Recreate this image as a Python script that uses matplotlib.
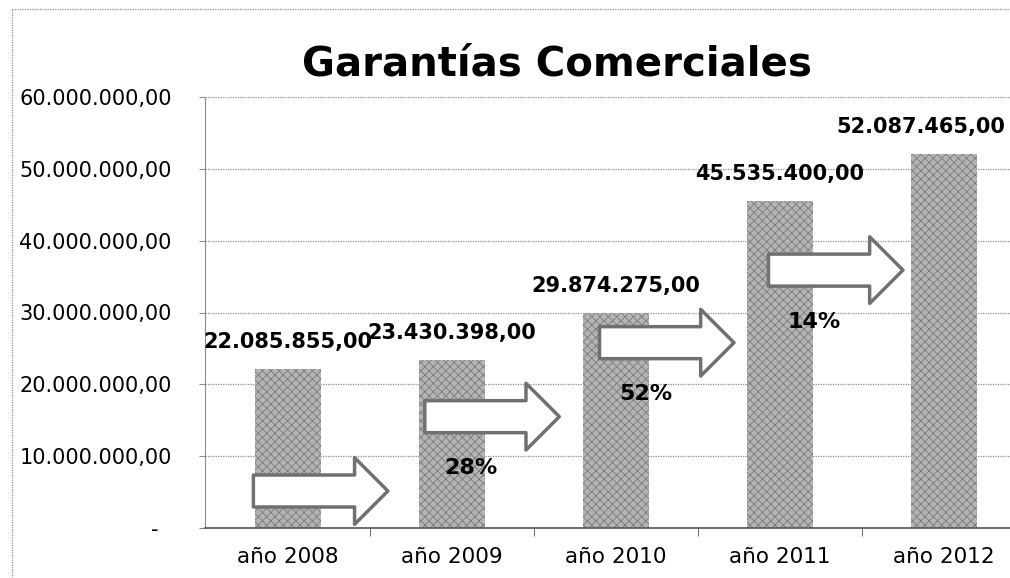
import numpy as np
import matplotlib
matplotlib.use("Agg")
import matplotlib.pyplot as plt
from matplotlib.ticker import FuncFormatter, MultipleLocator

# =========================
# DATA
# =========================
years = ["año 2008", "año 2009", "año 2010", "año 2011", "año 2012"]
values = [22085855.00, 23430398.00, 29874275.00, 45535400.00, 52087465.00]
growth_labels = ["", "28%", "52%", "14%"]

# arrow layout (start in category units, height in data units)
arrow_x0 = [-0.21, 0.835, 1.90, 2.93]
arrow_y = [5.15e6, 15.5e6, 25.8e6, 35.9e6]
ARROW_LEN = 0.82

# horizontal nudge (points) of the value labels, last one kept inside the image
label_dx = [0, 0, 0, 0, -17]


def es_fmt(v):
    s = f"{v:,.2f}"
    return s.replace(",", "X").replace(".", ",").replace("X", ".")


def ytick_fmt(v, pos):
    if v == 0:
        return "-  "
    return es_fmt(v)


# =========================
# FIGURE
# =========================
plt.rcParams["hatch.linewidth"] = 0.6
fig = plt.figure(figsize=(10.10, 5.78), dpi=100)
W, H = 1010, 578
ax = fig.add_axes([205 / W, 1 - 528 / H, (W - 205) / W, (528 - 97) / H])

x = np.arange(len(years))
ax.bar(x, values, width=0.4, color="#b4b4b4", edgecolor="#7a7a7a",
       linewidth=0, hatch="xxxx", zorder=2)

ax.set_xlim(-0.505, (W - 288) / 164)
ax.set_ylim(0, 60e6)

# grid + axes
ax.yaxis.set_major_locator(MultipleLocator(10e6))
ax.yaxis.set_major_formatter(FuncFormatter(ytick_fmt))
ax.grid(axis="y", color="#8a8a8a", linestyle=(0, (1, 1)), linewidth=0.9, zorder=0)
for s in ["top", "right"]:
    ax.spines[s].set_visible(False)
ax.spines["left"].set_color("#8a8a8a")
ax.spines["left"].set_linestyle((0, (1, 1)))
ax.spines["bottom"].set_color("#555555")
ax.spines["bottom"].set_linewidth(1.2)

ax.set_xticks(x)
ax.set_xticklabels(years)
ax.set_xticks(x[:-1] + 0.5, minor=True)
ax.tick_params(axis="x", which="major", length=0, pad=14, labelsize=15.5)
ax.tick_params(axis="x", which="minor", length=6, color="#555555")
ax.tick_params(axis="y", length=4, color="#8a8a8a", pad=20, labelsize=15)

# value labels above bars
for xi, v, dx in zip(x, values, label_dx):
    ax.annotate(es_fmt(v), (xi, v), xytext=(dx, 19.5), textcoords="offset points",
                ha="center", va="center", fontsize=15, fontweight="bold",
                zorder=5, annotation_clip=False)

# growth arrows
for x0, y0, lab in zip(arrow_x0, arrow_y, growth_labels):
    ax.annotate("", xy=(x0 + ARROW_LEN, y0), xytext=(x0, y0),
                arrowprops=dict(arrowstyle="simple,head_length=1.0,head_width=2.0,tail_width=0.96",
                                mutation_scale=24, fc="white", ec="#707070", lw=2.5,
                                shrinkA=0, shrinkB=0),
                zorder=4)
    if lab:
        ax.text(x0 + 0.28, y0 - 7.2e6, lab, ha="center", va="center",
                fontsize=16, fontweight="bold", zorder=5)

# title
fig.text(557 / W, 1 - 75 / H, "Garantías Comerciales", ha="center", va="baseline",
         fontsize=29, fontweight="bold")

# dotted outer border of the chart
fig.add_artist(plt.Line2D([12 / W, 12 / W], [0, 1 - 9 / H], transform=fig.transFigure,
                          color="#8a8a8a", lw=0.9, linestyle=(0, (1, 1))))
fig.add_artist(plt.Line2D([12 / W, 1], [1 - 9 / H, 1 - 9 / H], transform=fig.transFigure,
                          color="#8a8a8a", lw=0.9, linestyle=(0, (1, 1))))

fig.savefig("out.png", dpi=100)
